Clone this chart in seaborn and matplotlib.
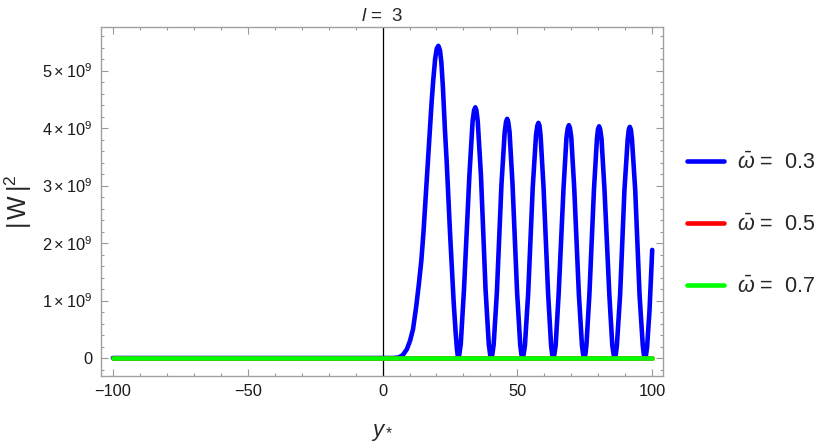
import matplotlib
matplotlib.use("Agg")
import matplotlib.pyplot as plt
import seaborn as sns
from matplotlib.ticker import FixedLocator, MultipleLocator

# ── data (|W|^2 in units of 1e9) ─────────────────────────────────────────────
blue_x = [-100, 4, 6, 7.5, 9, 10.2, 11.3, 12.5, 13.5, 14.4, 15.2, 16.0, 16.8, 17.5, 18.2, 18.8, 19.5, 20.1, 20.7,
          21.3, 21.8, 22.4, 23.1, 23.8, 24.4, 25.0, 25.6, 26.4, 27.1, 27.6, 28.0,
          28.4, 29.0, 30.2, 31.2, 32.2, 33.4, 33.95, 34.4,
          34.8, 35.3, 36.5, 37.35, 38.2, 39.4, 39.9, 40.3,
          40.7, 41.2, 42.4, 43.25, 44.1, 45.3, 45.8, 46.2,
          46.6, 47.1, 48.2, 49.05, 49.9, 51.05, 51.5, 51.9,
          52.3, 52.8, 54.0, 54.85, 55.7, 56.9, 57.4, 57.8,
          58.2, 58.6, 59.7, 60.55, 61.4, 62.5, 62.9, 63.3,
          63.7, 64.2, 65.3, 66.2, 67.1, 68.2, 68.7, 69.1,
          69.5, 70.0, 71.1, 71.95, 72.8, 73.95, 74.4, 74.8,
          75.2, 75.6, 76.7, 77.55, 78.4, 79.5, 79.9, 80.3,
          80.7, 81.2, 82.3, 83.2, 84.1, 85.2, 85.7, 86.1,
          86.5, 86.9, 88.1, 88.9, 89.7, 90.9, 91.3, 91.7,
          92.1, 92.5, 93.7, 94.5, 95.3, 96.5, 96.9, 97.3,
          97.7, 98.1, 99.0, 100]
blue_y = [0, 0, 0.01, 0.05, 0.15, 0.3, 0.5, 0.9, 1.3, 1.7, 2.2, 2.8, 3.4, 3.95, 4.45, 4.83, 5.2, 5.38, 5.43,
          5.35, 5.15, 4.7, 4.0, 3.4, 2.8, 2.2, 1.65, 0.95, 0.45, 0.15, 0.0,
          0.04, 0.24, 1.19, 2.18, 3.17, 4.12, 4.31, 4.36,
          4.31, 4.12, 3.17, 2.18, 1.19, 0.24, 0.06, 0.0,
          0.06, 0.23, 1.14, 2.08, 3.02, 3.93, 4.11, 4.16,
          4.11, 3.93, 3.02, 2.08, 1.14, 0.23, 0.06, 0.0,
          0.06, 0.22, 1.12, 2.05, 2.97, 3.87, 4.04, 4.09,
          4.04, 3.87, 2.97, 2.05, 1.12, 0.22, 0.06, 0.0,
          0.06, 0.22, 1.11, 2.03, 2.94, 3.83, 4.0, 4.05,
          4.0, 3.83, 2.94, 2.03, 1.11, 0.22, 0.06, 0.0,
          0.06, 0.22, 1.1, 2.02, 2.93, 3.81, 3.98, 4.03,
          3.98, 3.81, 2.93, 2.02, 1.1, 0.22, 0.06, 0.0,
          0.06, 0.22, 1.1, 2.01, 2.92, 3.8, 3.97, 4.02,
          3.97, 3.8, 2.92, 2.01, 1.1, 0.22, 0.06, 0.0,
          0.05, 0.19, 0.83, 1.88]

flat_x = [-100, 100]
red_y = [0, 0]
green_y = [0, 0]

series_labels = [r"$\bar{\omega}$ =  0.3", r"$\bar{\omega}$ =  0.5", r"$\bar{\omega}$ =  0.7"]
series_colors = ["#0000ff", "#ff0000", "#00ff00"]

xticks = [-100, -50, 0, 50, 100]
yticks = [0, 1, 2, 3, 4, 5]
ytick_labels = ["0", r"$1\times10^{9}$", r"$2\times10^{9}$", r"$3\times10^{9}$",
                r"$4\times10^{9}$", r"$5\times10^{9}$"]

# ── style ────────────────────────────────────────────────────────────────────
sns.set_theme(style="ticks")
plt.rcParams["font.family"] = ["Liberation Sans", "DejaVu Sans"]
plt.rcParams.update({
    "mathtext.fontset": "custom",
    "mathtext.rm": "Liberation Sans",
    "mathtext.it": "Liberation Sans:italic",
    "mathtext.bf": "Liberation Sans:bold",
    "axes.edgecolor": "#a0a0a0",
    "axes.linewidth": 1.0,
})

fig = plt.figure(figsize=(8.3, 4.45), dpi=100)
ax = fig.add_axes([101 / 830, 1 - 376 / 445, 562 / 830, 349 / 445])

ax.axvline(0, color="black", lw=0.9, zorder=1)
sns.lineplot(x=blue_x, y=blue_y, ax=ax, color=series_colors[0], lw=3.3,
             sort=False, estimator=None, label=series_labels[0], zorder=2)
sns.lineplot(x=flat_x, y=red_y, ax=ax, color=series_colors[1], lw=3.3,
             sort=False, estimator=None, label=series_labels[1], zorder=3)
sns.lineplot(x=flat_x, y=green_y, ax=ax, color=series_colors[2], lw=3.3,
             sort=False, estimator=None, label=series_labels[2], zorder=4)

ax.set_xlim(-104.4, 104.0)
ax.set_ylim(-0.313, 5.757)
ax.xaxis.set_major_locator(FixedLocator(xticks))
ax.xaxis.set_minor_locator(MultipleLocator(10))
ax.yaxis.set_major_locator(FixedLocator(yticks))
ax.set_yticklabels(ytick_labels)
ax.yaxis.set_minor_locator(MultipleLocator(0.2))
ax.tick_params(which="both", direction="in", top=True, right=True,
               color="#999999", width=0.8, labelsize=11.8, labelcolor="#1a1a1a", pad=6)
ax.tick_params(which="major", length=4.8)
ax.tick_params(which="minor", length=2.4)

ax.set_xlabel(r"$y_*$", fontsize=16, labelpad=16)
ax.set_ylabel(r"$|\,\mathrm{W}\,|^{2}$", fontsize=18, labelpad=6)
ax.set_title(r"$l$ =  3", fontsize=13.5, pad=4)

handles, labels = ax.get_legend_handles_labels()
ax.legend(handles, labels, loc="center left", bbox_to_anchor=(687 / 830, 1 - 225 / 445),
          bbox_transform=fig.transFigure, frameon=False, fontsize=15.5, borderpad=0,
          borderaxespad=0, handlelength=1.72, handletextpad=0.6, labelspacing=1.9)

fig.savefig("out.png", dpi=100)
plt.close(fig)
